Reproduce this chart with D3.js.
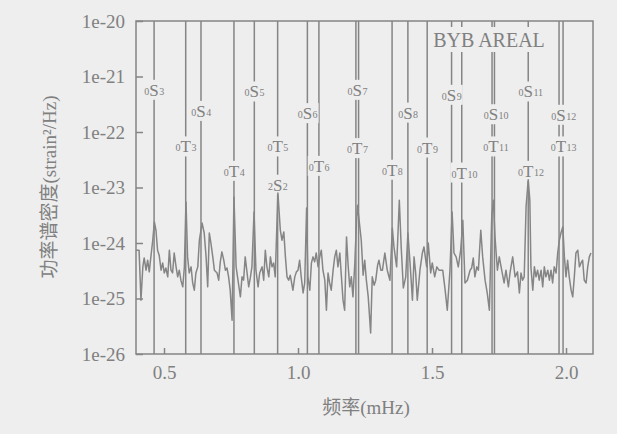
<!DOCTYPE html>
<html>
<head>
<meta charset="utf-8">
<script src="https://cdnjs.cloudflare.com/ajax/libs/d3/7.8.5/d3.min.js"></script>
<style>
body{margin:0;background:#eeeeee;}
text{font-family:"Liberation Serif","Noto Sans CJK SC",serif;fill:#808080;}
</style>
</head>
<body>
<div class="canvas"></div>
<script>
// spectrum: frequency (mHz) and log10 of PSD (strain^2/Hz)
const freq=[0.396,0.407,0.414,0.421,0.426,0.433,0.439,0.445,0.451,0.458,0.464,0.470,0.476,0.482,0.489,0.495,0.501,0.507,0.514,0.520,
  0.526,0.532,0.538,0.545,0.551,0.557,0.563,0.570,0.576,0.582,0.588,0.594,0.601,0.607,0.613,0.619,0.626,0.632,0.642,0.650,
  0.657,0.663,0.669,0.675,0.682,0.688,0.698,0.704,0.710,0.716,0.723,0.729,0.735,0.741,0.747,0.754,0.761,0.769,0.776,0.785,
  0.791,0.797,0.803,0.810,0.816,0.822,0.828,0.836,0.843,0.851,0.857,0.866,0.872,0.878,0.884,0.891,0.897,0.903,0.909,0.915,
  0.925,0.934,0.940,0.947,0.953,0.959,0.965,0.971,0.981,0.988,0.994,1.000,1.006,1.012,1.019,1.025,1.032,1.037,1.044,1.050,
  1.056,1.062,1.068,1.075,1.081,1.087,1.093,1.100,1.106,1.112,1.118,1.124,1.131,1.137,1.143,1.149,1.156,1.162,1.168,1.174,
  1.181,1.187,1.193,1.199,1.205,1.212,1.218,1.222,1.230,1.236,1.243,1.249,1.255,1.262,1.271,1.277,1.284,1.290,1.297,1.302,
  1.309,1.315,1.324,1.333,1.343,1.352,1.358,1.368,1.378,1.385,1.393,1.402,1.410,1.418,1.427,1.433,1.439,1.445,1.455,1.464,
  1.470,1.480,1.486,1.495,1.501,1.510,1.518,1.526,1.540,1.549,1.557,1.567,1.575,1.582,1.590,1.598,1.607,1.615,1.623,1.632,
  1.642,1.648,1.654,1.660,1.667,1.673,1.682,1.689,1.698,1.706,1.714,1.723,1.729,1.735,1.744,1.751,1.760,1.769,1.776,1.785,
  1.791,1.801,1.810,1.819,1.826,1.832,1.838,1.844,1.851,1.859,1.865,1.869,1.876,1.882,1.888,1.894,1.900,1.907,1.913,1.919,
  1.925,1.932,1.938,1.944,1.950,1.956,1.963,1.969,1.975,1.981,1.988,1.994,2.000,2.006,2.012,2.019,2.025,2.031,2.037,2.044,
  2.050,2.056,2.062,2.068,2.075,2.081,2.087,2.093];
const psdExp=[-24.13,-24.13,-25.03,-24.43,-24.27,-24.49,-24.31,-24.52,-24.25,-23.95,-23.62,-23.77,-24.13,-24.22,-24.49,-24.36,-24.54,-24.45,-24.61,-24.13,
  -24.49,-24.54,-24.18,-24.43,-24.61,-24.49,-24.67,-24.79,-24.43,-23.26,-24.25,-24.54,-24.43,-24.72,-24.85,-24.54,-24.43,-23.95,-23.64,-23.82,
  -24.25,-24.79,-23.82,-24.00,-24.25,-24.49,-24.54,-24.67,-24.34,-24.16,-24.31,-24.49,-24.45,-24.61,-24.85,-25.39,-23.17,-24.43,-24.67,-24.97,
  -24.61,-24.67,-24.25,-24.54,-24.79,-24.63,-24.43,-23.44,-24.49,-24.79,-24.54,-24.43,-24.67,-24.13,-24.43,-24.61,-24.25,-24.43,-24.36,-24.61,
  -23.10,-23.77,-23.95,-23.80,-24.25,-24.61,-24.67,-24.58,-24.85,-24.61,-24.52,-24.49,-24.31,-24.61,-24.90,-24.72,-23.37,-24.61,-24.85,-24.36,
  -24.25,-24.34,-24.18,-24.43,-24.25,-24.13,-24.49,-24.67,-25.21,-24.54,-24.72,-24.85,-24.49,-24.25,-24.13,-24.43,-24.18,-24.61,-25.03,-25.21,
  -23.89,-24.40,-24.79,-24.61,-24.97,-24.36,-23.64,-23.32,-23.68,-23.95,-24.58,-24.31,-24.67,-24.97,-25.62,-24.61,-24.76,-24.67,-24.40,-24.31,
  -24.49,-24.49,-24.18,-24.49,-24.67,-23.73,-24.07,-24.43,-23.23,-24.07,-24.81,-24.61,-23.82,-24.36,-25.03,-24.25,-24.54,-25.03,-24.49,-24.18,
  -24.07,-24.43,-24.00,-24.54,-24.36,-24.61,-24.43,-24.49,-24.49,-24.85,-25.21,-24.49,-23.44,-24.18,-24.25,-24.43,-24.13,-23.59,-24.72,-24.67,
  -24.49,-24.45,-24.27,-24.61,-24.43,-24.49,-23.77,-24.25,-24.67,-24.90,-25.21,-23.50,-23.23,-23.89,-24.49,-24.25,-24.49,-24.72,-24.49,-24.79,
  -24.54,-24.25,-24.61,-24.52,-24.90,-24.54,-24.67,-24.61,-23.35,-22.86,-23.23,-24.43,-24.85,-24.43,-24.61,-24.49,-24.67,-24.49,-24.79,-24.43,
  -24.61,-24.49,-24.67,-24.49,-24.72,-24.43,-24.54,-24.18,-23.95,-23.82,-23.71,-24.25,-24.61,-24.31,-24.61,-24.85,-24.97,-24.61,-24.18,-24.13,
  -24.43,-24.36,-24.31,-24.67,-24.72,-24.43,-24.25,-24.18];

// axis ticks
const yTicks=[1e-26,1e-25,1e-24,1e-23,1e-22,1e-21,1e-20];
const yTickLabels=['1e-26','1e-25','1e-24','1e-23','1e-22','1e-21','1e-20'];
const xTicks=[0.5,1.0,1.5,2.0];
const xTickLabels=['0.5','1.0','1.5','2.0'];

// normal mode lines (mHz)
const lineFreq=[0.463,0.581,0.638,0.761,0.837,0.924,1.035,1.078,1.216,1.226,1.351,1.410,1.482,1.573,1.611,1.724,1.733,1.859,1.974,1.989];

// mode labels: overtone, type, degree, frequency, level (log10 psd)
const labelN=['0','0','0','0','0','0','2','0','0','0','0','0','0','0','0','0','0','0','0','0','0','0'];
const labelType=['S','T','S','T','S','T','S','S','T','S','T','T','S','T','S','T','S','T','S','T','S','T'];
const labelL=['3','3','4','4','5','5','2','6','6','7','7','8','8','9','9','10','10','11','11','12','12','13'];
const labelFreq=[0.463,0.581,0.638,0.761,0.837,0.924,0.924,1.035,1.078,1.221,1.221,1.351,1.410,1.482,1.573,1.611,1.729,1.729,1.859,1.859,1.981,1.981];
const labelLevel=[-21.24,-22.26,-21.62,-22.70,-21.27,-22.26,-22.95,-21.66,-22.61,-21.24,-22.29,-22.68,-21.65,-22.28,-21.33,-22.73,-21.68,-22.26,-21.27,-22.70,-21.69,-22.26];

const bg='#eeeeee', ink='#858585';

const svg=d3.select('.canvas')
  .append('svg')
    .attr('width',617)
    .attr('height',434);
svg.append('rect').attr('width',617).attr('height',434).attr('fill',bg);

const margin={top:21,right:24,bottom:80,left:136};
const graphWidth=617-margin.left-margin.right;
const graphHeight=434-margin.top-margin.bottom;

const graph=svg.append('g')
  .attr('transform',`translate(${margin.left},${margin.top})`);

const x=d3.scaleLinear().domain([0.3955,2.1007]).range([0,graphWidth]);
const y=d3.scaleLog().domain([1e-26,1e-20]).range([graphHeight,0]);

// mode lines from top to bottom
graph.selectAll('.mode')
  .data(lineFreq)
  .enter().append('line')
    .attr('x1',d=>x(d)).attr('x2',d=>x(d))
    .attr('y1',0).attr('y2',graphHeight)
    .attr('stroke',ink).attr('stroke-width',1.5);

// labels sit on the lines with a patch of background behind them
labelFreq.forEach((f,i)=>{
  const cx=x(f), cy=y(Math.pow(10,labelLevel[i]));
  const g=graph.append('g');
  const patch=g.append('rect').attr('fill',bg);
  const main=g.append('text')
    .attr('x',cx).attr('y',cy+6)
    .attr('text-anchor','middle')
    .attr('font-size',17)
    .text(labelType[i]);
  const w=main.node().getComputedTextLength();
  g.append('text')
    .attr('x',cx-w/2).attr('y',cy+5)
    .attr('text-anchor','end')
    .attr('font-size',10)
    .text(labelN[i]);
  g.append('text')
    .attr('x',cx+w/2+0.5).attr('y',cy+5)
    .attr('text-anchor','start')
    .attr('font-size',10)
    .text(labelL[i]);
  const bb=g.node().getBBox();
  patch.attr('x',bb.x-1).attr('y',cy-10)
    .attr('width',bb.width+2).attr('height',20);
});

// station name
const name=graph.append('g');
const nameText=name.append('text')
  .attr('x',489-margin.left).attr('y',47-margin.top)
  .attr('text-anchor','middle')
  .attr('font-size',20)
  .text('BYB AREAL');
const nb=nameText.node().getBBox();
name.insert('rect','text')
  .attr('x',nb.x-1).attr('y',6)
  .attr('width',nb.width+2).attr('height',25)
  .attr('fill',bg);

// the spectrum
const line=d3.line()
  .x((d,i)=>x(freq[i]))
  .y(d=>y(Math.pow(10,d)));
graph.append('path')
  .datum(psdExp)
  .attr('d',line)
  .attr('fill','none')
  .attr('stroke',ink)
  .attr('stroke-width',1.5)
  .attr('stroke-linejoin','round');

// frame
graph.append('rect')
  .attr('width',graphWidth).attr('height',graphHeight)
  .attr('fill','none').attr('stroke',ink).attr('stroke-width',1.5);

// axes, ticks point inwards
const xAxis=d3.axisBottom(x)
  .tickValues(xTicks)
  .tickFormat((d,i)=>xTickLabels[i])
  .tickSizeInner(-6).tickSizeOuter(0).tickPadding(12);
const yAxis=d3.axisLeft(y)
  .tickValues(yTicks)
  .tickFormat((d,i)=>yTickLabels[i])
  .tickSizeInner(-7).tickSizeOuter(0).tickPadding(11);

const xAxisGroup=graph.append('g')
  .attr('transform',`translate(0,${graphHeight})`)
  .call(xAxis);
const yAxisGroup=graph.append('g').call(yAxis);

[xAxisGroup,yAxisGroup].forEach(a=>{
  a.select('.domain').remove();
  a.selectAll('line').attr('stroke',ink).attr('stroke-width',1.5);
  a.selectAll('text').attr('font-size',19).attr('fill','#808080')
    .attr('font-family','"Liberation Serif",serif');
});

// axis titles
svg.append('text')
  .attr('x',366).attr('y',414)
  .attr('text-anchor','middle')
  .attr('font-size',19)
  .text('频率(mHz)');
svg.append('text')
  .attr('transform','translate(56,187) rotate(-90)')
  .attr('text-anchor','middle')
  .attr('font-size',19)
  .text('功率谱密度(strain²/Hz)');
</script>
</body>
</html>
